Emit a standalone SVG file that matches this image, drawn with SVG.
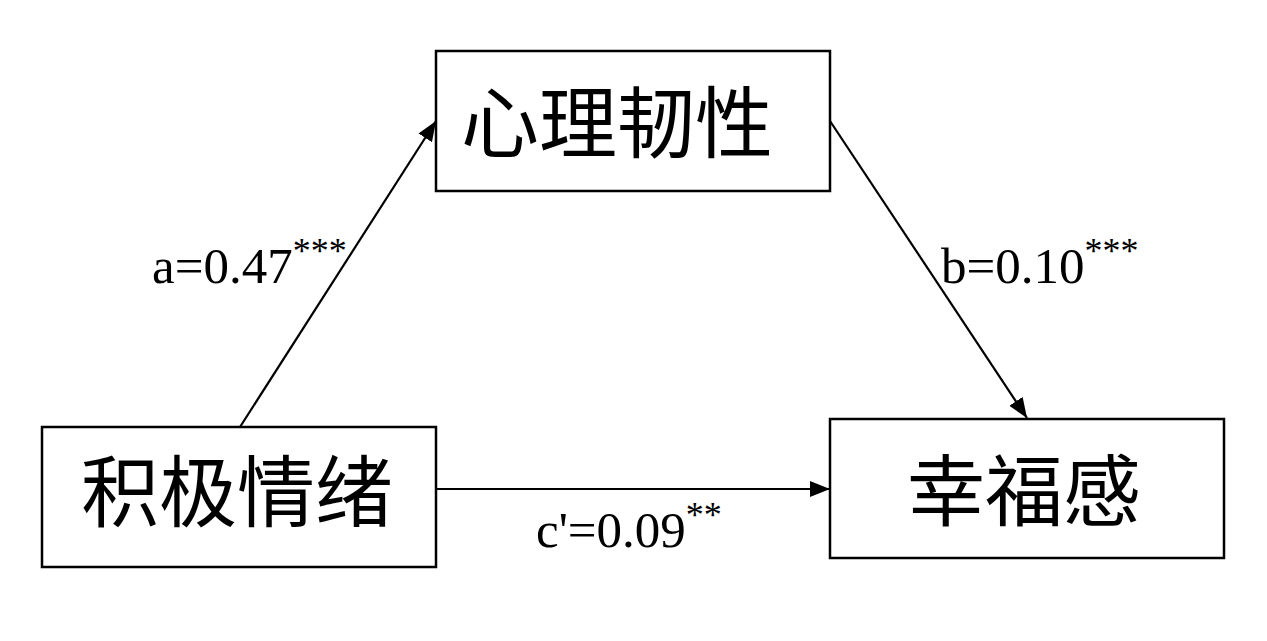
<svg xmlns="http://www.w3.org/2000/svg" width="1267" height="641" viewBox="0 0 1267 641">
<style>
.box{fill:#fff;stroke:#000;stroke-width:2.5}
.cjk{font-family:"Liberation Serif","Noto Sans CJK SC",serif;font-size:78px;fill:#000;text-anchor:middle}
.lbl{font-family:"Liberation Serif",serif;font-size:51px;fill:#000}
.sup{font-size:36px}
.edge{stroke:#000;stroke-width:2.2;fill:none;marker-end:url(#ah)}
</style>
<defs>
<marker id="ah" markerUnits="userSpaceOnUse" markerWidth="22" markerHeight="16" refX="20" refY="8" orient="auto">
<path d="M0,0 L20,8 L0,16 Z" fill="#000"/>
</marker>
</defs>
<rect width="1267" height="641" fill="#fff"/>
<g id="connectors">
<line class="edge" x1="240" y1="427" x2="436" y2="121"/>
<line class="edge" x1="830" y1="121" x2="1027" y2="418"/>
<line class="edge" x1="436" y1="489" x2="830" y2="489"/>
</g>
<g id="node-resilience">
<rect class="box" x="436" y="51" width="394" height="140"/>
<text class="cjk" x="617" y="152">心理韧性</text>
</g>
<g id="node-positive-emotion">
<rect class="box" x="42" y="427" width="394" height="140"/>
<text class="cjk" x="237" y="521">积极情绪</text>
</g>
<g id="node-wellbeing">
<rect class="box" x="830" y="419" width="394" height="139"/>
<text class="cjk" x="1024" y="520">幸福感</text>
</g>
<g id="labels">
<text class="lbl" x="152" y="283">a=0.47<tspan class="sup" dy="-20">***</tspan></text>
<text class="lbl" x="941" y="283">b=0.10<tspan class="sup" dy="-20">***</tspan></text>
<text class="lbl" x="536" y="547">c'=0.09<tspan class="sup" dy="-20">**</tspan></text>
</g>
</svg>
